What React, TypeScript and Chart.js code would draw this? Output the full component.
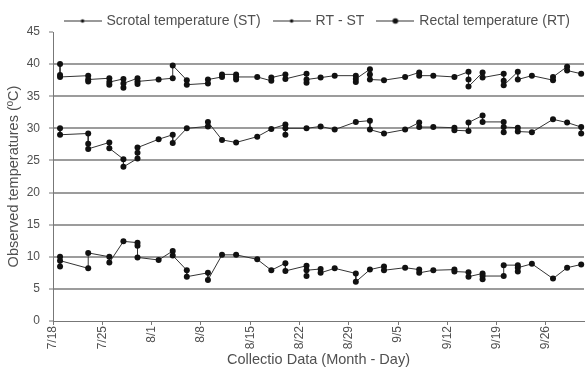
import React, { useEffect, useRef } from 'react';
import { Chart, registerables } from 'chart.js';

Chart.register(...registerables);

const seriesNames = ['Scrotal temperature (ST)', 'RT - ST', 'Rectal temperature (RT)'];
const tickDays = [0, 7, 14, 21, 28, 35, 42, 49, 56, 63, 70];
const tickLabels = ['7/18', '7/25', '8/1', '8/8', '8/15', '8/22', '8/29', '9/5', '9/12', '9/19', '9/26'];
const yTitle = 'Observed temperatures (ºC)';
const xTitle = 'Collectio Data (Month - Day)';

// days after 7/18 on which measurements were taken
const obsDays = [1, 5, 8, 10, 12, 15, 17, 19, 22, 24, 26, 29, 31, 33, 36, 38, 40, 43, 45, 47, 50, 52, 54, 57, 59, 61, 64, 66, 68, 71, 73, 75];

const stValues: number[][] = [
  [30.0, 29.0], [29.2, 27.6, 26.8], [27.8, 26.9], [25.2, 24.0], [25.3, 26.2, 27.0], [28.3], [29.0, 27.7], [30.0],
  [30.3, 31.0], [28.2], [27.8], [28.7], [29.9], [30.6, 29.0, 30.0], [30.0], [30.3], [29.8], [31.0], [31.2, 29.8],
  [29.2], [29.8], [30.9, 30.2], [30.2], [30.1, 29.7], [29.6, 30.9], [32.0, 31.0], [31.0, 29.4, 30.2], [30.1, 29.5],
  [29.4], [31.4], [30.9], [30.2, 29.2],
];

const diffValues: number[][] = [
  [10.0, 8.5, 9.4], [8.2, 10.6], [10.0, 9.1], [12.4], [12.2, 11.7, 9.9], [9.5], [10.9, 10.2], [7.9, 6.9],
  [7.5, 6.4], [10.3], [10.3], [9.6], [7.9], [9.0, 7.8], [8.6, 7.0, 7.9], [8.1, 7.5], [8.2], [7.4, 6.1], [8.0],
  [8.5, 7.9], [8.3], [8.0, 7.5], [7.9], [8.0, 7.7], [7.6, 6.9], [7.4, 6.5, 7.0], [7.0, 8.7], [8.7, 7.7, 8.3],
  [8.9], [6.6], [8.3], [8.8],
];

const rtValues: number[][] = [
  [40.0, 38.3, 38.0], [38.2, 37.3, 37.6], [37.8, 36.8, 37.2], [37.7, 36.3, 37.0], [37.8, 36.9, 37.3], [37.6],
  [37.8, 39.8], [37.5, 36.8], [37.0, 37.6], [38.0, 38.4], [38.4, 37.6, 38.0], [38.0], [37.4, 37.9], [38.4, 37.7],
  [38.5, 37.1, 37.6], [37.9], [38.2], [38.2, 37.2, 37.7], [39.2, 38.4, 37.6], [37.5], [38.0], [38.7, 38.2], [38.2],
  [38.0], [38.8, 37.6, 36.5], [38.7, 37.9], [38.5, 37.4, 36.7], [38.8, 37.6], [38.2], [37.5, 38.0], [39.6, 39.0],
  [38.5],
];

const FONT = "'Liberation Sans', Arial, sans-serif";
const TEXT = '#505050';

const toPoints = (vals: number[][]) =>
  obsDays.flatMap((d, i) => vals[i].map((v) => ({ x: d, y: v })));

function makeLegendIcon(r: number) {
  const c = document.createElement('canvas');
  c.width = 38;
  c.height = 9;
  const g = c.getContext('2d')!;
  g.strokeStyle = '#333';
  g.lineWidth = 1;
  g.beginPath();
  g.moveTo(0, 4.5);
  g.lineTo(38, 4.5);
  g.stroke();
  g.fillStyle = '#111';
  g.beginPath();
  g.arc(19, 4.5, r, 0, Math.PI * 2);
  g.fill();
  return c;
}

export default function App() {
  const ref = useRef<HTMLCanvasElement>(null);

  useEffect(() => {
    document.body.style.margin = '0';
    const canvas = ref.current!;
    const icons = [makeLegendIcon(1.8), makeLegendIcon(1.8), makeLegendIcon(2.8)];

    const mkSet = (label: string, vals: number[][]) => ({
      label,
      data: toPoints(vals),
      showLine: true,
      borderColor: '#333',
      borderWidth: 1,
      pointRadius: 3,
      pointHoverRadius: 3,
      pointBackgroundColor: '#111',
      pointBorderWidth: 0,
      clip: false as any,
    });

    const legendHeight = {
      id: 'legendHeight',
      beforeLayout(chart: any) {
        const lg = chart.legend;
        if (lg && !lg.__patched) {
          const orig = lg.fit;
          lg.fit = function () {
            orig.call(this);
            this.height = 32;
          };
          lg.__patched = true;
        }
      },
    };

    const chart = new Chart(canvas, {
      type: 'scatter',
      data: {
        datasets: [
          mkSet(seriesNames[0], stValues),
          mkSet(seriesNames[1], diffValues),
          mkSet(seriesNames[2], rtValues),
        ],
      },
      options: {
        responsive: false,
        animation: false,
        devicePixelRatio: 1,
        layout: { padding: { left: 0, right: 3, top: 0, bottom: 0 } },
        plugins: {
          tooltip: { enabled: false },
          legend: {
            position: 'top',
            align: 'end',
            labels: {
              usePointStyle: true,
              pointStyleWidth: 34,
              padding: 14,
              color: TEXT,
              font: { family: FONT, size: 14 },
              generateLabels: (c: any) =>
                (Chart.defaults.plugins.legend.labels.generateLabels as any)(c).map((l: any, i: number) => ({
                  ...l,
                  pointStyle: icons[i],
                })),
            },
          },
        },
        scales: {
          x: {
            type: 'linear',
            min: 0,
            max: 75.4,
            afterBuildTicks: (s: any) => {
              s.ticks = tickDays.map((v) => ({ value: v }));
            },
            afterFit: (s: any) => {
              s.height = 46;
            },
            ticks: {
              autoSkip: false,
              minRotation: 90,
              maxRotation: 90,
              padding: 1,
              color: TEXT,
              font: { family: FONT, size: 12 },
              callback: (_v: any, i: number) => tickLabels[i],
            },
            grid: { drawOnChartArea: false, tickLength: 4, tickColor: '#777', tickWidth: 1 },
            border: { color: '#777', width: 1 },
            title: {
              display: true,
              text: xTitle,
              color: TEXT,
              font: { family: FONT, size: 14.5, lineHeight: 1 },
              padding: { top: 0, bottom: 0 },
            },
          },
          y: {
            min: 0,
            max: 45,
            afterFit: (s: any) => {
              s.width = 53;
            },
            ticks: {
              stepSize: 5,
              padding: 9,
              color: TEXT,
              font: { family: FONT, size: 12 },
            },
            grid: {
              color: (ctx: any) =>
                ctx.tick && (ctx.tick.value === 0 || ctx.tick.value === 45) ? 'rgba(0,0,0,0)' : '#9c9c9c',
              lineWidth: 2,
              tickLength: 4,
              tickColor: '#777',
              tickWidth: 1,
            },
            border: { color: '#777', width: 1 },
            title: {
              display: true,
              text: yTitle,
              color: TEXT,
              font: { family: FONT, size: 14.5, lineHeight: 1.2 },
              padding: { top: 5, bottom: 0 },
            },
          },
        },
      },
      plugins: [legendHeight],
    } as any);

    return () => chart.destroy();
  }, []);

  return <canvas ref={ref} width={587} height={367} style={{ display: 'block' }} />;
}
